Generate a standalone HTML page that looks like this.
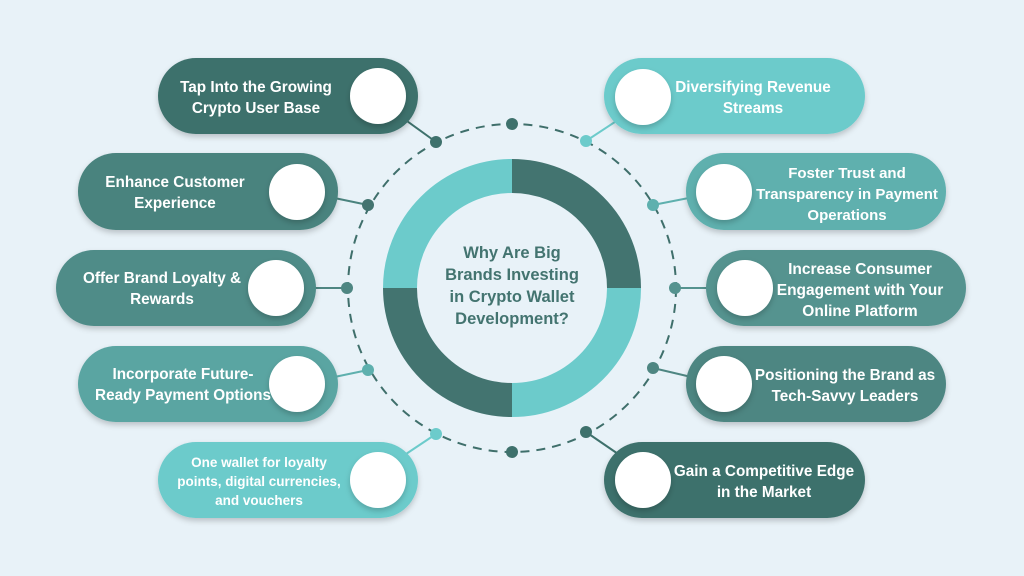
<!DOCTYPE html>
<html><head><meta charset="utf-8"><style>
html,body{margin:0;padding:0;background:#e8f2f8;}
svg{display:block}
text{font-family:"Liberation Sans",sans-serif;font-weight:bold;fill:#fff;font-size:15.3px;text-anchor:middle}
</style></head><body>
<svg width="1024" height="576" viewBox="0 0 1024 576">
<defs><filter id="s" x="-10%" y="-20%" width="120%" height="150%"><feDropShadow dx="0" dy="3" stdDeviation="3" flood-color="#000" flood-opacity="0.2"/></filter></defs>
<rect width="1024" height="576" fill="#e8f2f8"/>
<circle cx="512" cy="288" r="164" fill="none" stroke="#3f6f6b" stroke-width="2" stroke-dasharray="9 7"/>
<g fill="none" stroke-width="34">
<path d="M512 176 A112 112 0 0 1 624 288" stroke="#437470"/>
<path d="M624 288 A112 112 0 0 1 512 400" stroke="#6ccbcb"/>
<path d="M512 400 A112 112 0 0 1 400 288" stroke="#437470"/>
<path d="M400 288 A112 112 0 0 1 512 176" stroke="#6ccbcb"/>
</g>
<text x="512" y="258" style="fill:#437470;font-size:16.5px">Why Are Big</text>
<text x="512" y="280" style="fill:#437470;font-size:16.5px">Brands Investing</text>
<text x="512" y="302" style="fill:#437470;font-size:16.5px">in Crypto Wallet</text>
<text x="512" y="324" style="fill:#437470;font-size:16.5px">Development?</text>
<g stroke-width="2">
<line x1="400" y1="116" x2="436" y2="142" stroke="#3e716c"/>
<line x1="320" y1="195" x2="368" y2="205" stroke="#4a837e"/>
<line x1="300" y1="288" x2="347" y2="288" stroke="#4e8682"/>
<line x1="320" y1="380" x2="368" y2="370" stroke="#5eb0ae"/>
<line x1="400" y1="458" x2="436" y2="434" stroke="#6ccbcb"/>
<line x1="624" y1="116" x2="586" y2="141" stroke="#6ccbcb"/>
<line x1="704" y1="195" x2="653" y2="205" stroke="#5eb0ae"/>
<line x1="724" y1="288" x2="675" y2="288" stroke="#55938f"/>
<line x1="704" y1="380" x2="653" y2="368" stroke="#4e8682"/>
<line x1="624" y1="458" x2="586" y2="432" stroke="#3e716c"/>
</g>
<g>
<circle cx="436" cy="142" r="6" fill="#3e716c"/>
<circle cx="368" cy="205" r="6" fill="#437470"/>
<circle cx="347" cy="288" r="6" fill="#4e8682"/>
<circle cx="368" cy="370" r="6" fill="#5eb0ae"/>
<circle cx="436" cy="434" r="6" fill="#6ccbcb"/>
<circle cx="586" cy="141" r="6" fill="#6ccbcb"/>
<circle cx="653" cy="205" r="6" fill="#5eb0ae"/>
<circle cx="675" cy="288" r="6" fill="#55938f"/>
<circle cx="653" cy="368" r="6" fill="#4e8682"/>
<circle cx="586" cy="432" r="6" fill="#3e716c"/>
<circle cx="512" cy="124" r="6" fill="#3e716c"/>
<circle cx="512" cy="452" r="6" fill="#3e716c"/>
</g>
<g filter="url(#s)">
<rect x="158" y="58" width="260" height="76" rx="38" fill="#3e716c"/>
<rect x="78" y="153" width="260" height="77" rx="38" fill="#4a837e"/>
<rect x="56" y="250" width="260" height="76" rx="38" fill="#4f8c88"/>
<rect x="78" y="346" width="260" height="76" rx="38" fill="#5aa5a2"/>
<rect x="158" y="442" width="260" height="76" rx="38" fill="#6ccbcb"/>
<rect x="604" y="58" width="261" height="76" rx="38" fill="#6ccbcb"/>
<rect x="686" y="153" width="260" height="77" rx="38" fill="#5eb0ae"/>
<rect x="706" y="250" width="260" height="76" rx="38" fill="#55938f"/>
<rect x="686" y="346" width="260" height="76" rx="38" fill="#4e8682"/>
<rect x="604" y="442" width="261" height="76" rx="38" fill="#3e716c"/>
</g>
<g fill="#fff" filter="url(#s)">
<circle cx="378" cy="96" r="28"/><circle cx="297" cy="192" r="28"/><circle cx="276" cy="288" r="28"/><circle cx="297" cy="384" r="28"/><circle cx="378" cy="480" r="28"/>
<circle cx="643" cy="97" r="28"/><circle cx="724" cy="192" r="28"/><circle cx="745" cy="288" r="28"/><circle cx="724" cy="384" r="28"/><circle cx="643" cy="480" r="28"/>
</g>
<text x="256" y="92">Tap Into the Growing</text><text x="256" y="113">Crypto User Base</text>
<text x="175" y="187">Enhance Customer</text><text x="175" y="208">Experience</text>
<text x="162" y="283">Offer Brand Loyalty &amp;</text><text x="162" y="304">Rewards</text>
<text x="183" y="379">Incorporate Future-</text><text x="183" y="400">Ready Payment Options</text>
<text x="259" y="467" style="font-size:13.5px">One wallet for loyalty</text><text x="259" y="486" style="font-size:13.5px">points, digital currencies,</text><text x="259" y="505" style="font-size:13.5px">and vouchers</text>
<text x="753" y="92">Diversifying Revenue</text><text x="753" y="113">Streams</text>
<text x="847" y="178" style="font-size:15px">Foster Trust and</text><text x="847" y="199" style="font-size:15px">Transparency in Payment</text><text x="847" y="220" style="font-size:15px">Operations</text>
<text x="860" y="274" style="font-size:15.5px">Increase Consumer</text><text x="860" y="295" style="font-size:15.5px">Engagement with Your</text><text x="860" y="316" style="font-size:15.5px">Online Platform</text>
<text x="845" y="380">Positioning the Brand as</text><text x="845" y="401">Tech-Savvy Leaders</text>
<text x="764" y="476">Gain a Competitive Edge</text><text x="764" y="497">in the Market</text>
</svg>
</body></html>
